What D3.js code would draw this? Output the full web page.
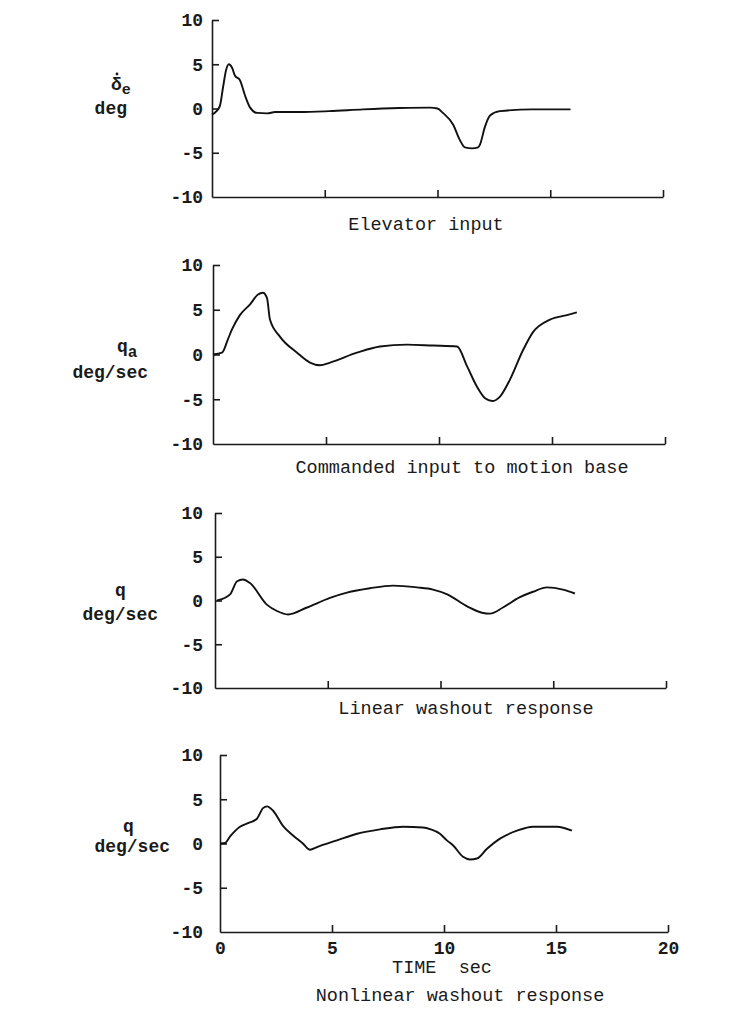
<!DOCTYPE html>
<html>
<head>
<meta charset="utf-8">
<script src="https://cdn.jsdelivr.net/npm/d3@7"></script>
<style>
body { margin: 0; background: #fff; }
text { font-family: "Liberation Mono", "DejaVu Sans Mono", monospace; fill: #1a1a1a; }
.tick text { font-size: 18px; font-weight: bold; }
.tick line, .domain { stroke: #1a1a1a; stroke-width: 1.6px; }
.cap { font-size: 18.5px; }
.lab { font-size: 18px; font-weight: bold; }
.trace { fill: none; stroke: #111; stroke-width: 1.9px; }
</style>
</head>
<body>
<svg width="733" height="1019"></svg>
<script>
var svg = d3.select("svg");

// Tick values shared by all four strips
var timeTicks = [0, 5, 10, 15, 20];
var valueTicks = [10, 5, 0, -5, -10];

// Elevator input (deg)
var elevT = [0, 0.2, 0.35, 0.49, 0.62, 0.75, 0.89, 1.02, 1.24, 1.46, 1.69, 2.0, 2.44, 2.8, 3.9, 5.2, 6.7, 8.3, 9.67, 10.0, 10.24, 10.69, 11.0, 11.22, 11.53, 11.8, 11.88, 12.1, 12.33, 12.77, 14.2, 15.9];
var elevV = [-0.7, -0.3, 0.3, 2.4, 4.3, 5.0, 4.6, 3.7, 3.2, 1.5, 0.1, -0.5, -0.55, -0.4, -0.4, -0.3, -0.1, 0.05, 0.1, 0.0, -0.5, -1.8, -3.6, -4.4, -4.5, -4.4, -4.1, -2.1, -0.8, -0.3, -0.1, -0.1];

// Commanded input to motion base (deg/sec)
var cmdT = [0, 0.4, 0.66, 0.84, 1.19, 1.64, 1.99, 2.21, 2.39, 2.52, 2.96, 3.72, 4.29, 4.73, 5.18, 6.37, 7.39, 8.58, 9.73, 10.8, 11.24, 11.68, 12.04, 12.35, 12.7, 13.14, 13.72, 14.16, 14.91, 15.66, 16.1];
var cmdV = [0, 0.2, 1.7, 2.8, 4.4, 5.6, 6.7, 6.9, 6.3, 3.9, 2.0, 0.2, -0.9, -1.2, -0.9, 0.2, 0.9, 1.1, 1.0, 0.9, -1.3, -3.6, -4.9, -5.2, -4.7, -2.8, 0.5, 2.5, 3.9, 4.4, 4.7];

// Linear washout response (deg/sec)
var linT = [0.09, 0.67, 0.98, 1.24, 1.55, 2.31, 2.75, 3.24, 4.08, 5.1, 5.85, 6.87, 7.89, 8.96, 9.67, 10.3, 11.2, 11.84, 12.2, 12.77, 13.5, 14.1, 14.72, 15.43, 15.96];
var linV = [0, 0.7, 2.2, 2.4, 2.0, -0.5, -1.2, -1.6, -0.8, 0.3, 0.9, 1.4, 1.7, 1.5, 1.25, 0.7, -0.7, -1.4, -1.5, -0.8, 0.35, 1.0, 1.5, 1.25, 0.8];

// Nonlinear washout response (deg/sec)
var nonT = [0, 0.22, 0.45, 0.89, 1.25, 1.65, 1.92, 2.1, 2.37, 2.81, 3.26, 3.7, 4.02, 4.33, 5.22, 6.12, 7.14, 8.17, 9.06, 9.4, 9.82, 10.13, 10.4, 10.85, 11.16, 11.47, 11.92, 12.5, 13.26, 13.97, 15.04, 15.71];
var nonV = [0, 0.05, 0.8, 1.9, 2.3, 2.8, 4.0, 4.2, 3.7, 2.0, 0.9, 0.0, -0.7, -0.4, 0.35, 1.1, 1.6, 1.9, 1.8, 1.6, 1.1, 0.35, -0.2, -1.5, -1.8, -1.7, -0.6, 0.55, 1.45, 1.9, 1.9, 1.45];

// strip layout
var panels = [
  { t: elevT, v: elevV, x0: 212, x1: 663, y0: 20, y1: 197,
    caption: "Elevator input", capX: 426, capY: 230 },
  { t: cmdT, v: cmdV, x0: 213, x1: 665, y0: 265, y1: 444,
    caption: "Commanded input to motion base", capX: 462, capY: 473 },
  { t: linT, v: linV, x0: 215, x1: 666, y0: 513, y1: 688,
    caption: "Linear washout response", capX: 466, capY: 714 },
  { t: nonT, v: nonV, x0: 220, x1: 668, y0: 755, y1: 932,
    caption: "Nonlinear washout response", capX: 460, capY: 1001, labelled: true }
];

panels.forEach(function (p) {
  var x = d3.scaleLinear().domain([0, 20]).range([p.x0, p.x1]);
  var y = d3.scaleLinear().domain([-10, 10]).range([p.y1, p.y0]);

  svg.append("g")
      .attr("transform", "translate(" + p.x0 + ",0)")
      .call(d3.axisLeft(y).tickValues(valueTicks).tickSize(-7).tickSizeOuter(0)
          .tickPadding(p.x0 - 203)
          .tickFormat(function (d) { return String(d); }))
      .call(function (g) { g.selectAll(".tick line").filter(function (d) { return d === -10; }).remove(); });

  var xAxis = d3.axisBottom(x).tickSize(-7).tickSizeOuter(0).tickPadding(9);
  if (p.labelled) xAxis.tickValues(timeTicks);
  else xAxis.tickValues(timeTicks.slice(1)).tickFormat("");
  svg.append("g")
      .attr("transform", "translate(0," + p.y1 + ")")
      .call(xAxis)
      .call(function (g) { g.selectAll(".tick line").filter(function (d) { return d === 0; }).remove(); });

  var line = d3.line()
      .x(function (d, i) { return x(p.t[i]); })
      .y(function (d) { return y(d); })
      .curve(d3.curveMonotoneX);
  svg.append("path").attr("class", "trace").attr("d", line(p.v));

  svg.append("text").attr("class", "cap")
      .attr("x", p.capX).attr("y", p.capY)
      .attr("text-anchor", "middle")
      .text(p.caption);
});

// vertical labels
var lab1 = svg.append("text").attr("class", "lab").attr("x", 111).attr("y", 90);
lab1.append("tspan").text("\u03b4");
lab1.append("tspan").attr("dy", 4).attr("font-size", 15).text("e");
// rate dot over the delta
svg.append("circle").attr("cx", 117).attr("cy", 74).attr("r", 1.4).attr("fill", "#1a1a1a");
svg.append("text").attr("class", "lab").attr("x", 127).attr("y", 114).attr("text-anchor", "end").text("deg");

var lab2 = svg.append("text").attr("class", "lab").attr("x", 117).attr("y", 352);
lab2.append("tspan").text("q");
lab2.append("tspan").attr("dy", 5).attr("font-size", 16).text("a");
svg.append("text").attr("class", "lab").attr("x", 148).attr("y", 378).attr("text-anchor", "end").text("deg/sec");

svg.append("text").attr("class", "lab").attr("x", 115).attr("y", 596).text("q");
svg.append("text").attr("class", "lab").attr("x", 158).attr("y", 620).attr("text-anchor", "end").text("deg/sec");

svg.append("text").attr("class", "lab").attr("x", 123).attr("y", 832).text("q");
svg.append("text").attr("class", "lab").attr("x", 170).attr("y", 852).attr("text-anchor", "end").text("deg/sec");

svg.append("text").attr("class", "cap").attr("x", 442).attr("y", 973)
    .attr("text-anchor", "middle").attr("xml:space", "preserve").text("TIME  sec");
</script>
</body>
</html>
